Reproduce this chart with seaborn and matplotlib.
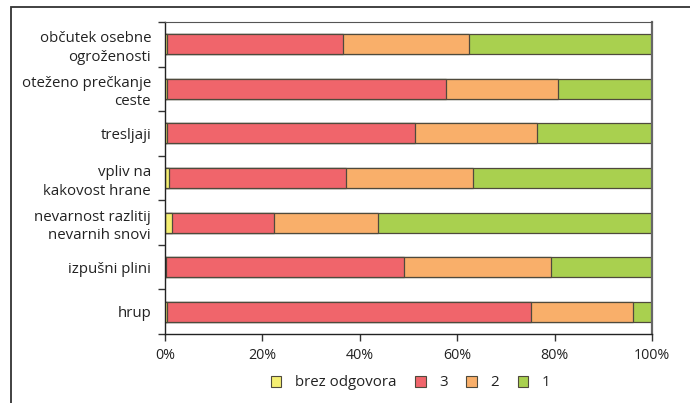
import matplotlib
matplotlib.use("Agg")
import matplotlib.pyplot as plt
from matplotlib.patches import Patch, Rectangle
import numpy as np
import pandas as pd
import seaborn as sns

categories = [
    "občutek osebne\nogroženosti",
    "oteženo prečkanje\nceste",
    "tresljaji",
    "vpliv na\nkakovost hrane",
    "nevarnost razlitij\nnevarnih snovi",
    "izpušni plini",
    "hrup",
]
brez_odgovora = [0.5, 0.5, 0.5, 0.9, 1.4, 0.3, 0.5]
ocena_3 = [36.0, 57.3, 50.9, 36.2, 21.0, 48.7, 74.6]
ocena_2 = [25.9, 22.8, 25.0, 26.2, 21.4, 30.2, 20.9]
ocena_1 = [37.6, 19.4, 23.6, 36.7, 56.2, 20.8, 4.0]

series_names = ["brez odgovora", "3", "2", "1"]
colors = ["#F5EF72", "#F0656B", "#F9AF6A", "#A9D04F"]
edge = "#4f4a3c"
x_ticks = [0, 20, 40, 60, 80, 100]
x_tick_labels = ["0%", "20%", "40%", "60%", "80%", "100%"]

sns.set_style("white")
plt.rcParams["font.family"] = ["Open Sans", "DejaVu Sans"]

df = pd.DataFrame({
    "kategorija": categories,
    "brez odgovora": brez_odgovora,
    "3": ocena_3,
    "2": ocena_2,
    "1": ocena_1,
})
cum = df[series_names].cumsum(axis=1)

fig = plt.figure(figsize=(6.9, 4.03), dpi=100)
ax = fig.add_axes([165 / 690, 1 - 334 / 403, 487 / 690, 312 / 403])

# stacked bars: draw cumulative totals from the widest to the narrowest
for name, col in reversed(list(zip(series_names, colors))):
    sns.barplot(x=cum[name], y=df["kategorija"], orient="h", color=col,
                edgecolor=edge, linewidth=0.9, width=0.45, ax=ax,
                saturation=1)

ax.set_xlim(0, 100)
ax.set_ylim(6.5, -0.5)
ax.set_xlabel("")
ax.set_ylabel("")
ax.set_xticks(x_ticks)
ax.set_xticklabels(x_tick_labels, fontsize=10.3, color="#222222")
ax.tick_params(axis="x", direction="out", length=5, width=1, color="#333333",
               pad=5, bottom=True)
ax.tick_params(axis="y", which="major", length=0, pad=10, labelsize=10.8,
               labelcolor="#222222")
ax.set_yticks(np.arange(-0.5, 7.0, 1.0), minor=True)
ax.tick_params(axis="y", which="minor", direction="out", length=5, width=1,
               color="#333333", left=True)
for lab in ax.get_yticklabels():
    lab.set_horizontalalignment("right")
    lab.set_multialignment("right")
    lab.set_linespacing(1.32)

for side in ["left", "bottom"]:
    ax.spines[side].set_color("#222222")
    ax.spines[side].set_linewidth(1.0)
ax.spines["top"].set_color("#555555")
ax.spines["top"].set_linewidth(0.8)
ax.spines["right"].set_color("#666666")
ax.spines["right"].set_linewidth(1.6)

handles = [Patch(facecolor=c, edgecolor=edge, linewidth=0.8) for c in colors]
fig.legend(handles, series_names, loc="center", bbox_to_anchor=(0.595, 1 - 383 / 403),
           ncol=4, frameon=False, fontsize=10.8, handlelength=0.7, handleheight=0.8,
           handletextpad=0.9, columnspacing=1.25, labelcolor="#222222")

# outer frame around the figure content
fig.patches.append(Rectangle((11 / 690, -0.1), 1.2, 1 - 7 / 403 + 0.1,
                             transform=fig.transFigure, fill=False,
                             edgecolor="#333333", linewidth=1.3))

fig.savefig("out.png", dpi=100)
